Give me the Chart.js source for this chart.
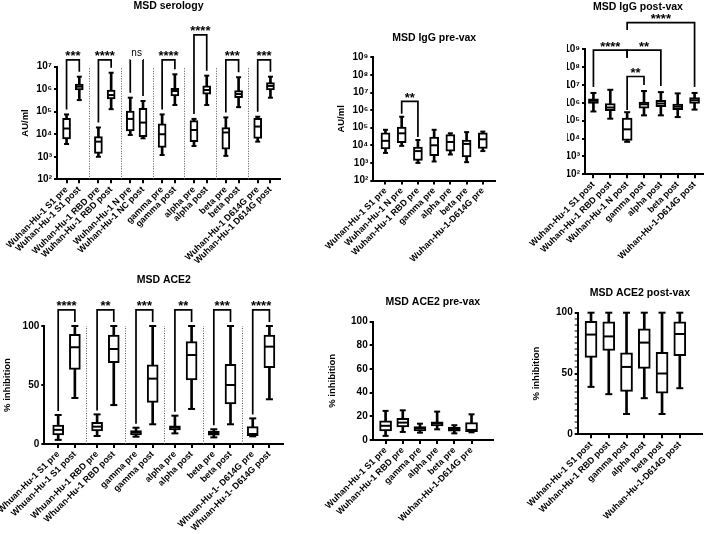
<!DOCTYPE html>
<html>
<head>
<meta charset="utf-8">
<script src="https://cdn.jsdelivr.net/npm/chart.js@4.4.1/dist/chart.umd.min.js"></script>
<style>
body { margin: 0; background: #fff; }
#fig { position: relative; width: 709px; height: 534px; }
#fig canvas { position: absolute; left: 0; top: 0; }
</style>
</head>
<body>
<div id="fig">
  <canvas id="serology" width="709" height="534"></canvas>
  <canvas id="iggPre" width="709" height="534"></canvas>
  <canvas id="iggPost" width="709" height="534"></canvas>
  <canvas id="ace2" width="709" height="534"></canvas>
  <canvas id="ace2Pre" width="709" height="534"></canvas>
  <canvas id="ace2Post" width="709" height="534"></canvas>
</div>
<script>
// box values: [min, q1, median, q3, max]
// MSD serology, AU/ml
const s1Pre = [3.7e3, 6.2e3, 1.8e4, 5.1e4, 7.6e4];
const s1Post = [3.3e5, 9.2e5, 1.3e6, 1.7e6, 3.6e6];
const rbdPre = [1.0e3, 1.4e3, 4.7e3, 7.8e3, 2.0e4];
const rbdPost = [1.3e5, 3.7e5, 5.5e5, 9.2e5, 5.4e6];
const nPre = [9.3e3, 1.4e4, 4.8e4, 1.07e5, 4.2e5];
const ncPost = [6.6e3, 7.8e3, 3.3e4, 1.4e5, 3.0e5];
const gammaPre = [1.2e3, 2.6e3, 1.0e4, 2.9e4, 7.6e4];
const gammaPost = [2.0e5, 5.0e5, 8.3e5, 1.1e6, 4.6e6];
const alphaPre = [3.0e3, 4.7e3, 1.55e4, 4.0e4, 4.8e4];
const alphaPost = [2.0e5, 6.1e5, 9.2e5, 1.4e6, 4.0e6];
const betaPre = [1.1e3, 2.2e3, 1.2e4, 2.0e4, 5.6e4];
const betaPost = [1.6e5, 4.2e5, 6.1e5, 8.6e5, 3.4e6];
const d614gPre = [4.7e3, 6.6e3, 2.2e4, 5.1e4, 6.0e4];
const d614gPost = [4.2e5, 9.2e5, 1.4e6, 1.95e6, 3.6e6];

// MSD ACE2, % inhibition
const s1PreInh = [3.5, 7.6, 12, 16.1, 24.6];
const s1PostInh = [39, 63.3, 82, 93, 100];
const rbdPreInh = [6.8, 11, 14.7, 18.4, 25.1];
const rbdPostInh = [33, 68.9, 80.5, 92.4, 100];
const gammaPreInh = [6.2, 7.6, 10, 11.3, 13.8];
const gammaPostInh = [16.7, 35.3, 55.4, 67, 100];
const alphaPreInh = [9, 11.9, 14, 15.3, 24];
const alphaPostInh = [29.7, 54.2, 75.4, 86.7, 100];
const betaPreInh = [5.6, 7.4, 9.3, 11, 12.5];
const betaPostInh = [16.7, 33.9, 50, 67.5, 100];
const d614gPreInh = [6.5, 7, 8.5, 14.7, 21.7];
const d614gPostInh = [37.9, 64.7, 82.5, 92.4, 100];

const serologyLabels = ['Wuhan-Hu-1 S1 pre', 'Wuhan-Hu-1 S1 post', 'Wuhan-Hu-1 RBD pre', 'Wuhan-Hu-1 RBD post',
  'Wuhan-Hu-1 N pre', 'Wuhan-Hu-1 NC post', 'gamma pre', 'gamma post', 'alpha pre', 'alpha post',
  'beta pre', 'beta post', 'Wuhan-Hu-1 D614G pre', 'Wuhan-Hu-1 D614G post'];
const serologyBoxes = [s1Pre, s1Post, rbdPre, rbdPost, nPre, ncPost, gammaPre, gammaPost,
  alphaPre, alphaPost, betaPre, betaPost, d614gPre, d614gPost];

const iggPreLabels = ['Wuhan-Hu-1 S1 pre', 'Wuhan-Hu-1 N pre', 'Wuhan-Hu-1 RBD pre', 'gamma pre',
  'alpha pre', 'beta pre', 'Wuhan-Hu-1-D614G pre'];
const iggPreBoxes = [s1Pre, nPre, rbdPre, gammaPre, alphaPre, betaPre, d614gPre];

const iggPostLabels = ['Wuhan-Hu-1 S1 post', 'Wuhan-Hu-1 RBD post', 'Wuhan-Hu-1 N post', 'gamma post',
  'alpha post', 'beta post', 'Wuhan-Hu-1-D614G post'];
const iggPostBoxes = [s1Post, rbdPost, ncPost, gammaPost, alphaPost, betaPost, d614gPost];

const ace2Labels = ['Whuan-Hu-1 S1 pre', 'Whuan-Hu-1 S1 post', 'Whuan-Hu-1 RBD pre', 'Whuan-Hu-1 RBD post',
  'gamma pre', 'gamma post', 'alpha pre', 'alpha post', 'beta pre', 'beta post',
  'Whuan-Hu-1- D614G pre', 'Whuan-Hu-1- D614G post'];
const ace2Boxes = [s1PreInh, s1PostInh, rbdPreInh, rbdPostInh, gammaPreInh, gammaPostInh,
  alphaPreInh, alphaPostInh, betaPreInh, betaPostInh, d614gPreInh, d614gPostInh];

const ace2PreLabels = ['Wuhan-Hu-1 S1 pre', 'Wuhan-Hu-1 RBD pre', 'gamma pre', 'alpha pre', 'beta pre', 'Wuhan-Hu-1-D614G pre'];
const ace2PreBoxes = [s1PreInh, rbdPreInh, gammaPreInh, alphaPreInh, betaPreInh, d614gPreInh];

const ace2PostLabels = ['Wuhan-Hu-1 S1 post', 'Wuhan-Hu-1 RBD post', 'gamma post', 'alpha post', 'beta post', 'Wuhan-Hu-1-D614G post'];
const ace2PostBoxes = [s1PostInh, rbdPostInh, gammaPostInh, alphaPostInh, betaPostInh, d614gPostInh];

// y ticks
const logTicks7 = [1e2, 1e3, 1e4, 1e5, 1e6, 1e7];
const logTicks9 = [1e2, 1e3, 1e4, 1e5, 1e6, 1e7, 1e8, 1e9];
const pctTicks50 = [0, 50, 100];
const pctTicks20 = [0, 20, 40, 60, 80, 100];

// significance brackets (box indexes, level and leg ends in axis units)
const serologyBrackets = [
  {a: 0, b: 1, text: '***', level: 2e7},
  {a: 2, b: 3, text: '****', level: 2e7},
  {a: 4, b: 5, text: 'ns', level: 2e7},
  {a: 6, b: 7, text: '****', level: 2e7},
  {a: 8, b: 9, text: '****', level: 2.6e8},
  {a: 10, b: 11, text: '***', level: 2e7},
  {a: 12, b: 13, text: '***', level: 2e7}
];
const iggPreBrackets = [{a: 1, b: 2, text: '**', level: 3.1e6}];
const iggPostBrackets = [
  {a: 0, b: 2, text: '****', level: 9e8, endB: 3.4e8},
  {a: 2, b: 4, text: '**', level: 9e8, endA: 3.4e8},
  {a: 2, b: 3, text: '**', level: 3e7, endA: 4e5},
  {a: 2, b: 6, text: '****', level: 3.1e10, endA: 1.2e10}
];
const ace2Brackets = [
  {a: 0, b: 1, text: '****', level: 113.6},
  {a: 2, b: 3, text: '**', level: 113.6},
  {a: 4, b: 5, text: '***', level: 113.6},
  {a: 6, b: 7, text: '**', level: 113.6},
  {a: 8, b: 9, text: '***', level: 113.6},
  {a: 10, b: 11, text: '****', level: 113.6}
];

Chart.defaults.font.family = '"Liberation Sans", Arial, Helvetica, sans-serif';
Chart.defaults.color = '#000';
Chart.defaults.animation = false;

const W = 709, H = 534;
const marks = {};

// put boxes on category slots, blank slots make the gaps
function spread(items, lead, gaps, tail) {
  const slots = [], index = [];
  for (let i = 0; i < lead; i++) slots.push(null);
  items.forEach((it, i) => {
    index.push(slots.length);
    slots.push(it);
    if (i < items.length - 1) {
      for (let g = 0; g < gaps[i % gaps.length]; g++) slots.push(null);
    }
  });
  for (let i = 0; i < tail; i++) slots.push(null);
  return {slots, index};
}

const supDigits = '⁰¹²³⁴⁵⁶⁷⁸⁹';
function powerLabel(v) {
  return '10' + String(Math.round(Math.log10(v))).split('').map(d => supDigits[d]).join('');
}

// brackets and dotted separators
const annotate = {
  id: 'annotate',
  afterDatasetsDraw(chart) {
    const m = marks[chart.canvas.id];
    if (!m) return;
    const {ctx, chartArea} = chart;
    const xs = chart.scales.x, ys = chart.scales.y;
    ctx.save();
    ctx.strokeStyle = '#555';
    ctx.lineWidth = 1;
    ctx.setLineDash([1, 1.5]);
    m.separators.forEach(v => {
      const px = Math.round(xs.getPixelForValue(v)) + 0.5;
      ctx.beginPath();
      ctx.moveTo(px, chartArea.bottom);
      ctx.lineTo(px, chartArea.top);
      ctx.stroke();
    });
    ctx.setLineDash([]);
    ctx.strokeStyle = '#000';
    ctx.fillStyle = '#000';
    ctx.lineWidth = 1.7;
    ctx.textAlign = 'center';
    ctx.textBaseline = 'alphabetic';
    const leg = (slot, end) => end != null ? ys.getPixelForValue(end)
      : ys.getPixelForValue(m.stats[slot][4]) - m.gap;
    m.brackets.forEach(b => {
      const xa = xs.getPixelForValue(b.a), xb = xs.getPixelForValue(b.b);
      const yl = ys.getPixelForValue(b.level);
      const ya = leg(b.a, b.endA), yb = leg(b.b, b.endB);
      const mid = (xa + xb) / 2;
      const ns = b.text.indexOf('*') < 0;
      ctx.font = ns ? '10px "Liberation Sans", Arial' : 'bold 13px "Liberation Sans", Arial';
      ctx.beginPath();
      if (ns) {
        const half = ctx.measureText(b.text).width / 2 + 1;
        ctx.moveTo(xa, ya); ctx.lineTo(xa, yl); ctx.lineTo(mid - half, yl);
        ctx.moveTo(mid + half, yl); ctx.lineTo(xb, yl); ctx.lineTo(xb, yb);
      } else {
        ctx.moveTo(xa, ya); ctx.lineTo(xa, yl); ctx.lineTo(xb, yl); ctx.lineTo(xb, yb);
      }
      ctx.stroke();
      ctx.fillText(b.text, mid, ns ? yl - 4 : yl + 0.5);
    });
    ctx.restore();
  }
};
Chart.register(annotate);

function tickMark(data, r) {
  return {
    type: 'line', data, showLine: false, pointStyle: 'line',
    pointRadius: r, pointHoverRadius: r, pointBorderWidth: 2,
    pointBorderColor: '#000', pointBackgroundColor: '#000', borderColor: '#000',
    clip: false, order: 0
  };
}

function boxPanel(id, p) {
  const L = p.layout;
  const lab = spread(p.labels, p.lead, p.gaps, p.tail);
  const st = spread(p.boxes, p.lead, p.gaps, p.tail).slots;
  const pick = k => st.map(s => s ? s[k] : null);

  const separators = [];
  if (p.paired) {
    for (let i = 1; i < lab.index.length - 1; i += 2) {
      separators.push((lab.index[i] + lab.index[i + 1]) / 2);
    }
  }
  marks[id] = {
    stats: st,
    gap: L.legGap,
    separators,
    brackets: (p.brackets || []).map(b => Object.assign({}, b, {a: lab.index[b.a], b: lab.index[b.b]}))
  };

  const labeled = p.yLabeled || p.yTicks;

  new Chart(document.getElementById(id), {
    type: 'bar',
    data: {
      labels: lab.slots.map(v => v || ''),
      datasets: [
        tickMark(pick(2), L.box / 2 - 1),
        tickMark(pick(0), L.cap),
        tickMark(pick(4), L.cap),
        {
          type: 'bar', data: st.map(s => s ? [s[1], s[3]] : null),
          barThickness: L.box, backgroundColor: '#fff', borderColor: '#000',
          borderWidth: 2, borderSkipped: false, grouped: false, clip: false, order: 1
        },
        {
          type: 'bar', data: st.map(s => s ? [s[0], s[4]] : null),
          barThickness: 2, backgroundColor: '#000', borderWidth: 0,
          grouped: false, clip: false, order: 2
        }
      ]
    },
    options: {
      responsive: false,
      animation: false,
      events: [],
      layout: {padding: {left: L.padLeft, right: W - L.right, top: 0, bottom: 0}},
      plugins: {
        legend: {display: false},
        tooltip: {enabled: false},
        title: {
          display: true,
          text: p.title,
          fullSize: !!L.fullTitle,
          color: '#000',
          font: {size: 10.5, weight: 'bold'},
          padding: {top: Math.max(0, L.titleY - 6.3), bottom: L.top - Math.max(6.3, L.titleY) - 6.3}
        }
      },
      scales: {
        x: {
          type: 'category',
          offset: true,
          afterFit: s => { s.height = H - L.bottom; },
          border: {display: true, color: '#000', width: 2},
          grid: {
            offset: false, drawOnChartArea: false, drawTicks: true, tickLength: 4,
            lineWidth: 2, tickWidth: 2, color: '#000',
            tickColor: c => (c.tick && c.tick.label) ? '#000' : 'rgba(0,0,0,0)'
          },
          ticks: {autoSkip: false, minRotation: 45, maxRotation: 45, padding: 1, color: '#000',
            font: {size: 9, weight: 'bold'}}
        },
        y: {
          type: p.log ? 'logarithmic' : 'linear',
          min: p.yTicks[0],
          max: p.yTicks[p.yTicks.length - 1],
          afterBuildTicks: s => { s.ticks = p.yTicks.map(v => ({value: v})); },
          afterFit: s => { s.width = L.left - L.padLeft; },
          border: {display: true, color: '#000', width: 2},
          grid: {
            drawOnChartArea: false, drawTicks: true, tickLength: 3, lineWidth: 2, color: '#000',
            tickColor: '#000',
            tickWidth: c => (c.tick && labeled.indexOf(c.tick.value) >= 0) ? 2 : 1
          },
          ticks: {
            autoSkip: false,
            padding: 2, color: '#000', font: {size: 10, weight: 'bold'},
            callback: v => labeled.indexOf(v) < 0 ? '' : (p.log ? powerLabel(v) : String(v))
          },
          title: {
            display: !!p.yTitle,
            text: p.yTitle || '',
            color: '#000',
            font: {size: 9.5, weight: 'bold'},
            padding: {top: L.yTitleX ? L.yTitleX - L.padLeft - 5.7 : 0, bottom: 0}
          }
        }
      }
    }
  });
}

boxPanel('serology', {
  title: 'MSD serology', yTitle: 'AU/ml', log: true, yTicks: logTicks7,
  labels: serologyLabels, boxes: serologyBoxes, brackets: serologyBrackets,
  paired: true, lead: 1, gaps: [1, 2], tail: 1,
  layout: {left: 57, top: 66.7, right: 280, bottom: 179.3, titleY: 6.3, yTitleX: 25, padLeft: 18.6,
    box: 8, cap: 2.5, legGap: 5}
});

boxPanel('iggPre', {
  title: 'MSD IgG pre-vax', yTitle: 'AU/ml', log: true, yTicks: logTicks9,
  labels: iggPreLabels, boxes: iggPreBoxes, brackets: iggPreBrackets,
  lead: 1, gaps: [1], tail: 1,
  layout: {left: 373.3, top: 57.3, right: 495, bottom: 180.5, titleY: 38.5, yTitleX: 341.7, padLeft: 335.3,
    box: 9, cap: 2.5, legGap: 3}
});

boxPanel('iggPost', {
  title: 'MSD IgG post-vax', log: true, yTicks: logTicks9,
  labels: iggPostLabels, boxes: iggPostBoxes, brackets: iggPostBrackets,
  lead: 0, gaps: [0], tail: 0,
  layout: {left: 585, top: 49.3, right: 709, bottom: 174.3, titleY: 6.7, padLeft: 567, fullTitle: true,
    box: 10, cap: 3, legGap: 6}
});

boxPanel('ace2', {
  title: 'MSD ACE2', yTitle: '% inhibition', yTicks: pctTicks50,
  labels: ace2Labels, boxes: ace2Boxes, brackets: ace2Brackets,
  paired: true, lead: 2, gaps: [2, 3], tail: 2,
  layout: {left: 44.3, top: 326, right: 283.3, bottom: 444, titleY: 280.5, yTitleX: 7.5, padLeft: 1.1,
    box: 11, cap: 3.5, legGap: 4}
});

boxPanel('ace2Pre', {
  title: 'MSD ACE2 pre-vax', yTitle: '% inhibition', yTicks: pctTicks20,
  labels: ace2PreLabels, boxes: ace2PreBoxes,
  lead: 1, gaps: [1], tail: 2,
  layout: {left: 372.7, top: 321.7, right: 493, bottom: 440, titleY: 302.5, yTitleX: 332, padLeft: 325.6,
    box: 12, cap: 3, legGap: 4}
});

const minorTicks = [];
for (let v = 0; v <= 100; v += 5) minorTicks.push(v);
boxPanel('ace2Post', {
  title: 'MSD ACE2 post-vax', yTitle: '% inhibition', yTicks: minorTicks, yLabeled: pctTicks50,
  labels: ace2PostLabels, boxes: ace2PostBoxes,
  lead: 1, gaps: [1], tail: 2,
  layout: {left: 577.7, top: 312.7, right: 703.3, bottom: 434.3, titleY: 293.3, yTitleX: 536.3, padLeft: 529.9,
    box: 12, cap: 3.5, legGap: 4}
});
</script>
</body>
</html>
